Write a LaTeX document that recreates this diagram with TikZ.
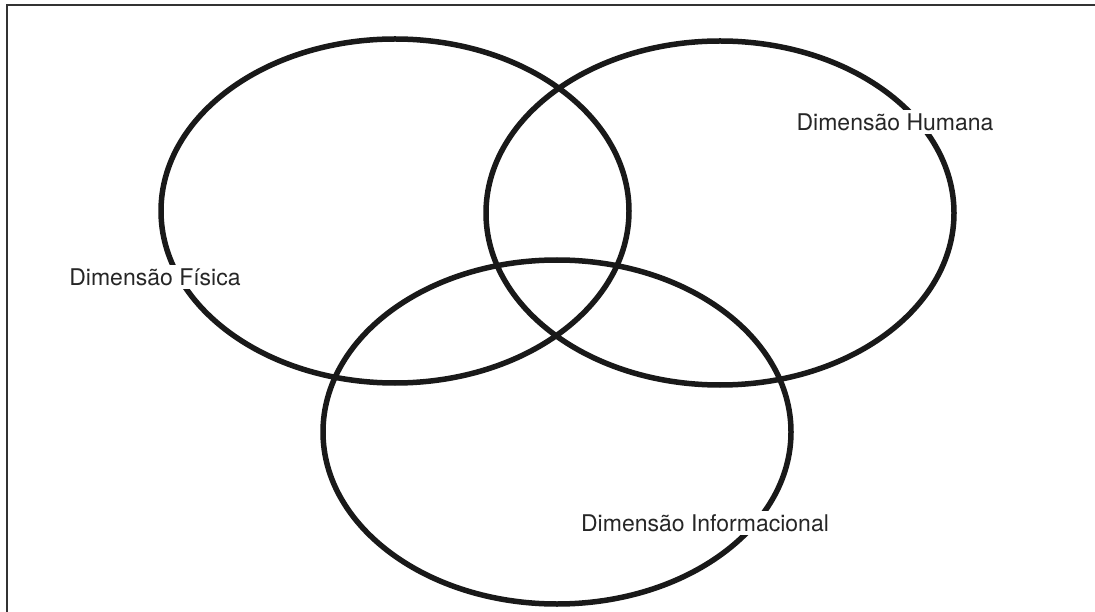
\documentclass[tikz,border=0pt]{standalone}
\usepackage{fontspec}
\setmainfont{TeX Gyre Heros}
\usepackage{tikz}
\usetikzlibrary{positioning,shapes.geometric}
\tikzset{
    dimension/.style={ellipse, draw=black!90, line width=5.5pt, minimum width=468pt, minimum height=344pt, inner sep=0pt},
    dimension label/.style={font=\fontsize{23}{27}\selectfont, fill=white, inner sep=3pt, text=black!85},
    frame line/.style={line width=1.5pt, black!80}
}

\begin{document}
\begin{tikzpicture}[x=1pt, y=-1pt]
    \useasboundingbox (0,0) rectangle (1095,612);

    % Frame (cut at right and bottom)
    \coordinate (frameBL) at (7,612);
    \coordinate (frameTL) at (7,5);
    \coordinate (frameTR) at (1095,5);
    \draw[frame line] (frameBL) -- (frameTL) -- (frameTR);

    % The three dimensions
    \node[dimension] (fisica) at (395,211) {};
    \node[dimension] (humana) at (720,213) {};
    \node[dimension] (info) at (557,432) {};

    % Labels sit on top of the outlines
    \node[dimension label] (fisicaLbl) at (155,277) {Dimensão Física};
    \node[dimension label] (humanaLbl) at (895,122) {Dimensão Humana};
    \node[dimension label] (infoLbl) at (705,523) {Dimensão Informacional};
\end{tikzpicture}
\end{document}
